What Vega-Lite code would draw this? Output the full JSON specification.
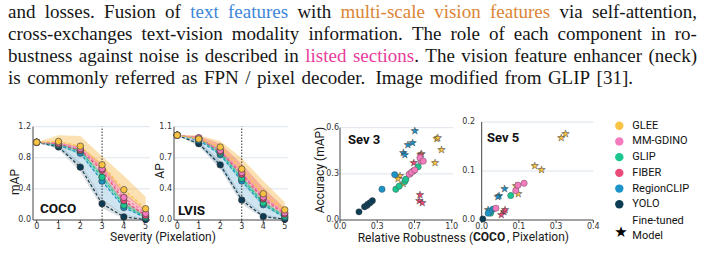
{
  "$schema": "https://vega.github.io/schema/vega-lite/v6.json",
  "width": 703,
  "height": 267,
  "autosize": "none",
  "padding": 0,
  "background": "white",
  "config": {
    "view": {"stroke": null},
    "axis": {"disable": true},
    "text": {"font": "Roboto"}
  },
  "datasets": {
    "words": [
      {"line": 1, "pos": 8, "word": "and", "tone": "body"},
      {"line": 1, "pos": 44.7, "word": "losses.", "tone": "body"},
      {"line": 1, "pos": 104.1, "word": "Fusion", "tone": "body"},
      {"line": 1, "pos": 165.1, "word": "of", "tone": "body"},
      {"line": 1, "pos": 190.2, "word": "text", "tone": "text"},
      {"line": 1, "pos": 228.0, "word": "features", "tone": "text"},
      {"line": 1, "pos": 297.4, "word": "with", "tone": "body"},
      {"line": 1, "pos": 340.5, "word": "multi-scale", "tone": "vision"},
      {"line": 1, "pos": 434.2, "word": "vision", "tone": "vision"},
      {"line": 1, "pos": 490.0, "word": "features", "tone": "vision"},
      {"line": 1, "pos": 559.4, "word": "via", "tone": "body"},
      {"line": 1, "pos": 591.9, "word": "self-attention,", "tone": "body"},
      {"line": 2, "pos": 8, "word": "cross-exchanges", "tone": "body"},
      {"line": 2, "pos": 141.5, "word": "text-vision", "tone": "body"},
      {"line": 2, "pos": 231.8, "word": "modality", "tone": "body"},
      {"line": 2, "pos": 308.4, "word": "information.", "tone": "body"},
      {"line": 2, "pos": 411.9, "word": "The", "tone": "body"},
      {"line": 2, "pos": 450.4, "word": "role", "tone": "body"},
      {"line": 2, "pos": 488.9, "word": "of", "tone": "body"},
      {"line": 2, "pos": 513.7, "word": "each", "tone": "body"},
      {"line": 2, "pos": 557.5, "word": "component", "tone": "body"},
      {"line": 2, "pos": 650.9, "word": "in", "tone": "body"},
      {"line": 2, "pos": 674.7, "word": "ro-", "tone": "body"},
      {"line": 3, "pos": 8, "word": "bustness", "tone": "body"},
      {"line": 3, "pos": 78.85, "word": "against", "tone": "body"},
      {"line": 3, "pos": 139.1, "word": "noise", "tone": "body"},
      {"line": 3, "pos": 185.65, "word": "is", "tone": "body"},
      {"line": 3, "pos": 204.8, "word": "described", "tone": "body"},
      {"line": 3, "pos": 284.05, "word": "in", "tone": "body"},
      {"line": 3, "pos": 305.3, "word": "listed", "tone": "section"},
      {"line": 3, "pos": 352.95, "word": "sections", "tone": "section"},
      {"line": 3, "pos": 414.15, "word": ".", "tone": "body"},
      {"line": 3, "pos": 425.35, "word": "The", "tone": "body"},
      {"line": 3, "pos": 461.3, "word": "vision", "tone": "body"},
      {"line": 3, "pos": 514.25, "word": "feature", "tone": "body"},
      {"line": 3, "pos": 573.4, "word": "enhancer", "tone": "body"},
      {"line": 3, "pos": 648.45, "word": "(neck)", "tone": "body"},
      {"line": 4, "pos": 8, "word": "is", "tone": "body"},
      {"line": 4, "pos": 27.2, "word": "commonly", "tone": "body"},
      {"line": 4, "pos": 115, "word": "referred", "tone": "body"},
      {"line": 4, "pos": 181.6, "word": "as", "tone": "body"},
      {"line": 4, "pos": 203.9, "word": "FPN", "tone": "body"},
      {"line": 4, "pos": 245.2, "word": "/", "tone": "body"},
      {"line": 4, "pos": 257, "word": "pixel", "tone": "body"},
      {"line": 4, "pos": 301.5, "word": "decoder.", "tone": "body"},
      {"line": 4, "pos": 375.4, "word": "Image", "tone": "body"},
      {"line": 4, "pos": 429.4, "word": "modified", "tone": "body"},
      {"line": 4, "pos": 504.5, "word": "from", "tone": "body"},
      {"line": 4, "pos": 547.9, "word": "GLIP", "tone": "body"},
      {"line": 4, "pos": 596.6, "word": "[31].", "tone": "body"}
    ],
    "sevTicks": [{"t": 0}, {"t": 1}, {"t": 2}, {"t": 3}, {"t": 4}, {"t": 5}],
    "sev3Ticks": [{"t": 0}, {"t": 0.33333}, {"t": 0.66667}, {"t": 1}],
    "sev5Ticks": [{"t": 0}, {"t": 0.13333}, {"t": 0.26667}, {"t": 0.4}],
    "cocoGrid": [{"g": 0}, {"g": 0.4}, {"g": 0.8}, {"g": 1.2}],
    "lvisGrid": [{"g": 0}, {"g": 0.36667}, {"g": 0.73333}, {"g": 1.1}],
    "sev3Grid": [{"g": 0}, {"g": 0.3}, {"g": 0.6}],
    "sev5Grid": [{"g": 0}, {"g": 0.1}, {"g": 0.2}],
    "bands": [
      {"set": "COCO", "band": "GLEE", "sev": 0, "lo": 1.0, "hi": 1.0},
      {"set": "COCO", "band": "GLEE", "sev": 1, "lo": 0.99, "hi": 1.09},
      {"set": "COCO", "band": "GLEE", "sev": 2, "lo": 0.93, "hi": 1.08},
      {"set": "COCO", "band": "GLEE", "sev": 3, "lo": 0.64, "hi": 0.82},
      {"set": "COCO", "band": "GLEE", "sev": 4, "lo": 0.33, "hi": 0.57},
      {"set": "COCO", "band": "GLEE", "sev": 5, "lo": 0.10, "hi": 0.30},
      {"set": "COCO", "band": "RegionCLIP", "sev": 0, "lo": 1.0, "hi": 1.0},
      {"set": "COCO", "band": "RegionCLIP", "sev": 1, "lo": 0.93, "hi": 0.98},
      {"set": "COCO", "band": "RegionCLIP", "sev": 2, "lo": 0.70, "hi": 0.90},
      {"set": "COCO", "band": "RegionCLIP", "sev": 3, "lo": 0.25, "hi": 0.58},
      {"set": "COCO", "band": "RegionCLIP", "sev": 4, "lo": 0.06, "hi": 0.24},
      {"set": "COCO", "band": "RegionCLIP", "sev": 5, "lo": 0.0, "hi": 0.06},
      {"set": "COCO", "band": "YOLO", "sev": 0, "lo": 1.0, "hi": 1.0},
      {"set": "COCO", "band": "YOLO", "sev": 1, "lo": 0.91, "hi": 0.97},
      {"set": "COCO", "band": "YOLO", "sev": 2, "lo": 0.62, "hi": 0.74},
      {"set": "COCO", "band": "YOLO", "sev": 3, "lo": 0.15, "hi": 0.27},
      {"set": "COCO", "band": "YOLO", "sev": 4, "lo": 0.02, "hi": 0.07},
      {"set": "COCO", "band": "YOLO", "sev": 5, "lo": 0.0, "hi": 0.02},
      {"set": "COCO", "band": "FIBER", "sev": 0, "lo": 1.0, "hi": 1.0},
      {"set": "COCO", "band": "FIBER", "sev": 1, "lo": 0.96, "hi": 1.0},
      {"set": "COCO", "band": "FIBER", "sev": 2, "lo": 0.87, "hi": 0.95},
      {"set": "COCO", "band": "FIBER", "sev": 3, "lo": 0.58, "hi": 0.72},
      {"set": "COCO", "band": "FIBER", "sev": 4, "lo": 0.20, "hi": 0.36},
      {"set": "COCO", "band": "FIBER", "sev": 5, "lo": 0.03, "hi": 0.13},
      {"set": "COCO", "band": "GLIP", "sev": 0, "lo": 1.0, "hi": 1.0},
      {"set": "COCO", "band": "GLIP", "sev": 1, "lo": 0.95, "hi": 0.99},
      {"set": "COCO", "band": "GLIP", "sev": 2, "lo": 0.84, "hi": 0.92},
      {"set": "COCO", "band": "GLIP", "sev": 3, "lo": 0.50, "hi": 0.60},
      {"set": "COCO", "band": "GLIP", "sev": 4, "lo": 0.16, "hi": 0.24},
      {"set": "COCO", "band": "GLIP", "sev": 5, "lo": 0.02, "hi": 0.06},
      {"set": "LVIS", "band": "GLEE", "sev": 0, "lo": 1.0, "hi": 1.0},
      {"set": "LVIS", "band": "GLEE", "sev": 1, "lo": 0.95, "hi": 1.0},
      {"set": "LVIS", "band": "GLEE", "sev": 2, "lo": 0.82, "hi": 0.93},
      {"set": "LVIS", "band": "GLEE", "sev": 3, "lo": 0.54, "hi": 0.73},
      {"set": "LVIS", "band": "GLEE", "sev": 4, "lo": 0.26, "hi": 0.46},
      {"set": "LVIS", "band": "GLEE", "sev": 5, "lo": 0.08, "hi": 0.21},
      {"set": "LVIS", "band": "RegionCLIP", "sev": 0, "lo": 1.0, "hi": 1.0},
      {"set": "LVIS", "band": "RegionCLIP", "sev": 1, "lo": 0.89, "hi": 0.97},
      {"set": "LVIS", "band": "RegionCLIP", "sev": 2, "lo": 0.62, "hi": 0.82},
      {"set": "LVIS", "band": "RegionCLIP", "sev": 3, "lo": 0.25, "hi": 0.52},
      {"set": "LVIS", "band": "RegionCLIP", "sev": 4, "lo": 0.05, "hi": 0.22},
      {"set": "LVIS", "band": "RegionCLIP", "sev": 5, "lo": 0.0, "hi": 0.05},
      {"set": "LVIS", "band": "YOLO", "sev": 0, "lo": 1.0, "hi": 1.0},
      {"set": "LVIS", "band": "YOLO", "sev": 1, "lo": 0.87, "hi": 0.93},
      {"set": "LVIS", "band": "YOLO", "sev": 2, "lo": 0.60, "hi": 0.70},
      {"set": "LVIS", "band": "YOLO", "sev": 3, "lo": 0.19, "hi": 0.28},
      {"set": "LVIS", "band": "YOLO", "sev": 4, "lo": 0.02, "hi": 0.07},
      {"set": "LVIS", "band": "YOLO", "sev": 5, "lo": 0.0, "hi": 0.02},
      {"set": "LVIS", "band": "FIBER", "sev": 0, "lo": 1.0, "hi": 1.0},
      {"set": "LVIS", "band": "FIBER", "sev": 1, "lo": 0.95, "hi": 0.99},
      {"set": "LVIS", "band": "FIBER", "sev": 2, "lo": 0.78, "hi": 0.90},
      {"set": "LVIS", "band": "FIBER", "sev": 3, "lo": 0.50, "hi": 0.66},
      {"set": "LVIS", "band": "FIBER", "sev": 4, "lo": 0.20, "hi": 0.38},
      {"set": "LVIS", "band": "FIBER", "sev": 5, "lo": 0.04, "hi": 0.14},
      {"set": "LVIS", "band": "GLIP", "sev": 0, "lo": 1.0, "hi": 1.0},
      {"set": "LVIS", "band": "GLIP", "sev": 1, "lo": 0.95, "hi": 0.98},
      {"set": "LVIS", "band": "GLIP", "sev": 2, "lo": 0.76, "hi": 0.83},
      {"set": "LVIS", "band": "GLIP", "sev": 3, "lo": 0.44, "hi": 0.53},
      {"set": "LVIS", "band": "GLIP", "sev": 4, "lo": 0.16, "hi": 0.24},
      {"set": "LVIS", "band": "GLIP", "sev": 5, "lo": 0.02, "hi": 0.06}
    ],
    "curves": [
      {"set": "COCO", "model": "YOLO", "sev": 0, "v": 1.0},
      {"set": "COCO", "model": "YOLO", "sev": 1, "v": 0.94},
      {"set": "COCO", "model": "YOLO", "sev": 2, "v": 0.68},
      {"set": "COCO", "model": "YOLO", "sev": 3, "v": 0.21},
      {"set": "COCO", "model": "YOLO", "sev": 4, "v": 0.04},
      {"set": "COCO", "model": "YOLO", "sev": 5, "v": 0.005},
      {"set": "COCO", "model": "RegionCLIP", "sev": 0, "v": 1.0},
      {"set": "COCO", "model": "RegionCLIP", "sev": 1, "v": 0.96},
      {"set": "COCO", "model": "RegionCLIP", "sev": 2, "v": 0.86},
      {"set": "COCO", "model": "RegionCLIP", "sev": 3, "v": 0.50},
      {"set": "COCO", "model": "RegionCLIP", "sev": 4, "v": 0.16},
      {"set": "COCO", "model": "RegionCLIP", "sev": 5, "v": 0.03},
      {"set": "COCO", "model": "GLIP", "sev": 0, "v": 1.0},
      {"set": "COCO", "model": "GLIP", "sev": 1, "v": 0.97},
      {"set": "COCO", "model": "GLIP", "sev": 2, "v": 0.89},
      {"set": "COCO", "model": "GLIP", "sev": 3, "v": 0.55},
      {"set": "COCO", "model": "GLIP", "sev": 4, "v": 0.19},
      {"set": "COCO", "model": "GLIP", "sev": 5, "v": 0.04},
      {"set": "COCO", "model": "FIBER", "sev": 0, "v": 1.0},
      {"set": "COCO", "model": "FIBER", "sev": 1, "v": 0.98},
      {"set": "COCO", "model": "FIBER", "sev": 2, "v": 0.90},
      {"set": "COCO", "model": "FIBER", "sev": 3, "v": 0.64},
      {"set": "COCO", "model": "FIBER", "sev": 4, "v": 0.25},
      {"set": "COCO", "model": "FIBER", "sev": 5, "v": 0.06},
      {"set": "COCO", "model": "MM-GDINO", "sev": 0, "v": 1.0},
      {"set": "COCO", "model": "MM-GDINO", "sev": 1, "v": 0.99},
      {"set": "COCO", "model": "MM-GDINO", "sev": 2, "v": 0.92},
      {"set": "COCO", "model": "MM-GDINO", "sev": 3, "v": 0.66},
      {"set": "COCO", "model": "MM-GDINO", "sev": 4, "v": 0.29},
      {"set": "COCO", "model": "MM-GDINO", "sev": 5, "v": 0.085},
      {"set": "COCO", "model": "GLEE", "sev": 0, "v": 1.0},
      {"set": "COCO", "model": "GLEE", "sev": 1, "v": 1.01},
      {"set": "COCO", "model": "GLEE", "sev": 2, "v": 0.95},
      {"set": "COCO", "model": "GLEE", "sev": 3, "v": 0.71},
      {"set": "COCO", "model": "GLEE", "sev": 4, "v": 0.39},
      {"set": "COCO", "model": "GLEE", "sev": 5, "v": 0.145},
      {"set": "LVIS", "model": "YOLO", "sev": 0, "v": 1.0},
      {"set": "LVIS", "model": "YOLO", "sev": 1, "v": 0.90},
      {"set": "LVIS", "model": "YOLO", "sev": 2, "v": 0.65},
      {"set": "LVIS", "model": "YOLO", "sev": 3, "v": 0.235},
      {"set": "LVIS", "model": "YOLO", "sev": 4, "v": 0.04},
      {"set": "LVIS", "model": "YOLO", "sev": 5, "v": 0.01},
      {"set": "LVIS", "model": "RegionCLIP", "sev": 0, "v": 1.0},
      {"set": "LVIS", "model": "RegionCLIP", "sev": 1, "v": 0.94},
      {"set": "LVIS", "model": "RegionCLIP", "sev": 2, "v": 0.77},
      {"set": "LVIS", "model": "RegionCLIP", "sev": 3, "v": 0.46},
      {"set": "LVIS", "model": "RegionCLIP", "sev": 4, "v": 0.18},
      {"set": "LVIS", "model": "RegionCLIP", "sev": 5, "v": 0.03},
      {"set": "LVIS", "model": "GLIP", "sev": 0, "v": 1.0},
      {"set": "LVIS", "model": "GLIP", "sev": 1, "v": 0.96},
      {"set": "LVIS", "model": "GLIP", "sev": 2, "v": 0.79},
      {"set": "LVIS", "model": "GLIP", "sev": 3, "v": 0.49},
      {"set": "LVIS", "model": "GLIP", "sev": 4, "v": 0.20},
      {"set": "LVIS", "model": "GLIP", "sev": 5, "v": 0.045},
      {"set": "LVIS", "model": "FIBER", "sev": 0, "v": 1.0},
      {"set": "LVIS", "model": "FIBER", "sev": 1, "v": 0.965},
      {"set": "LVIS", "model": "FIBER", "sev": 2, "v": 0.81},
      {"set": "LVIS", "model": "FIBER", "sev": 3, "v": 0.54},
      {"set": "LVIS", "model": "FIBER", "sev": 4, "v": 0.25},
      {"set": "LVIS", "model": "FIBER", "sev": 5, "v": 0.07},
      {"set": "LVIS", "model": "MM-GDINO", "sev": 0, "v": 1.0},
      {"set": "LVIS", "model": "MM-GDINO", "sev": 1, "v": 0.97},
      {"set": "LVIS", "model": "MM-GDINO", "sev": 2, "v": 0.82},
      {"set": "LVIS", "model": "MM-GDINO", "sev": 3, "v": 0.56},
      {"set": "LVIS", "model": "MM-GDINO", "sev": 4, "v": 0.27},
      {"set": "LVIS", "model": "MM-GDINO", "sev": 5, "v": 0.085},
      {"set": "LVIS", "model": "GLEE", "sev": 0, "v": 1.0},
      {"set": "LVIS", "model": "GLEE", "sev": 1, "v": 0.955},
      {"set": "LVIS", "model": "GLEE", "sev": 2, "v": 0.86},
      {"set": "LVIS", "model": "GLEE", "sev": 3, "v": 0.60},
      {"set": "LVIS", "model": "GLEE", "sev": 4, "v": 0.31},
      {"set": "LVIS", "model": "GLEE", "sev": 5, "v": 0.12}
    ],
    "scatter": [
      {"sev": 3, "model": "GLEE", "kind": "tuned", "rr": 0.537, "acc": 0.288},
      {"sev": 3, "model": "GLEE", "kind": "tuned", "rr": 0.52, "acc": 0.267},
      {"sev": 3, "model": "GLEE", "kind": "tuned", "rr": 0.567, "acc": 0.234},
      {"sev": 3, "model": "GLEE", "kind": "tuned", "rr": 0.73, "acc": 0.428},
      {"sev": 3, "model": "GLEE", "kind": "tuned", "rr": 0.866, "acc": 0.527},
      {"sev": 3, "model": "GLEE", "kind": "tuned", "rr": 0.875, "acc": 0.535},
      {"sev": 3, "model": "GLEE", "kind": "tuned", "rr": 0.91, "acc": 0.454},
      {"sev": 3, "model": "GLEE", "kind": "tuned", "rr": 0.85, "acc": 0.368},
      {"sev": 3, "model": "RegionCLIP", "kind": "tuned", "rr": 0.567, "acc": 0.434},
      {"sev": 3, "model": "RegionCLIP", "kind": "tuned", "rr": 0.58, "acc": 0.42},
      {"sev": 3, "model": "RegionCLIP", "kind": "tuned", "rr": 0.606, "acc": 0.486},
      {"sev": 3, "model": "RegionCLIP", "kind": "tuned", "rr": 0.65, "acc": 0.50},
      {"sev": 3, "model": "RegionCLIP", "kind": "tuned", "rr": 0.67, "acc": 0.576},
      {"sev": 3, "model": "FIBER", "kind": "tuned", "rr": 0.66, "acc": 0.372},
      {"sev": 3, "model": "FIBER", "kind": "tuned", "rr": 0.716, "acc": 0.16},
      {"sev": 3, "model": "FIBER", "kind": "tuned", "rr": 0.71, "acc": 0.125},
      {"sev": 3, "model": "FIBER", "kind": "tuned", "rr": 0.737, "acc": 0.11},
      {"sev": 3, "model": "FIBER", "kind": "tuned", "rr": 0.72, "acc": 0.42},
      {"sev": 3, "model": "YOLO", "kind": "base", "rr": 0.17, "acc": 0.053},
      {"sev": 3, "model": "YOLO", "kind": "base", "rr": 0.22, "acc": 0.086},
      {"sev": 3, "model": "YOLO", "kind": "base", "rr": 0.24, "acc": 0.094},
      {"sev": 3, "model": "YOLO", "kind": "base", "rr": 0.25, "acc": 0.103},
      {"sev": 3, "model": "YOLO", "kind": "base", "rr": 0.27, "acc": 0.112},
      {"sev": 3, "model": "YOLO", "kind": "base", "rr": 0.29, "acc": 0.125},
      {"sev": 3, "model": "RegionCLIP", "kind": "base", "rr": 0.376, "acc": 0.20},
      {"sev": 3, "model": "RegionCLIP", "kind": "base", "rr": 0.49, "acc": 0.295},
      {"sev": 3, "model": "GLIP", "kind": "base", "rr": 0.50, "acc": 0.20},
      {"sev": 3, "model": "GLIP", "kind": "base", "rr": 0.53, "acc": 0.22},
      {"sev": 3, "model": "GLIP", "kind": "base", "rr": 0.58, "acc": 0.25},
      {"sev": 3, "model": "GLIP", "kind": "base", "rr": 0.59, "acc": 0.265},
      {"sev": 3, "model": "GLIP", "kind": "base", "rr": 0.70, "acc": 0.346},
      {"sev": 3, "model": "FIBER", "kind": "base", "rr": 0.627, "acc": 0.30},
      {"sev": 3, "model": "FIBER", "kind": "base", "rr": 0.656, "acc": 0.318},
      {"sev": 3, "model": "MM-GDINO", "kind": "base", "rr": 0.62, "acc": 0.297},
      {"sev": 3, "model": "MM-GDINO", "kind": "base", "rr": 0.64, "acc": 0.31},
      {"sev": 3, "model": "MM-GDINO", "kind": "base", "rr": 0.67, "acc": 0.325},
      {"sev": 3, "model": "MM-GDINO", "kind": "base", "rr": 0.725, "acc": 0.383},
      {"sev": 3, "model": "MM-GDINO", "kind": "base", "rr": 0.716, "acc": 0.405},
      {"sev": 3, "model": "MM-GDINO", "kind": "base", "rr": 0.746, "acc": 0.383},
      {"sev": 5, "model": "GLEE", "kind": "tuned", "rr": 0.285, "acc": 0.168},
      {"sev": 5, "model": "GLEE", "kind": "tuned", "rr": 0.30, "acc": 0.175},
      {"sev": 5, "model": "GLEE", "kind": "tuned", "rr": 0.19, "acc": 0.11},
      {"sev": 5, "model": "GLEE", "kind": "tuned", "rr": 0.214, "acc": 0.103},
      {"sev": 5, "model": "GLEE", "kind": "tuned", "rr": 0.123, "acc": 0.07},
      {"sev": 5, "model": "GLEE", "kind": "tuned", "rr": 0.131, "acc": 0.054},
      {"sev": 5, "model": "RegionCLIP", "kind": "tuned", "rr": 0.082, "acc": 0.064},
      {"sev": 5, "model": "RegionCLIP", "kind": "tuned", "rr": 0.062, "acc": 0.05},
      {"sev": 5, "model": "RegionCLIP", "kind": "tuned", "rr": 0.058, "acc": 0.047},
      {"sev": 5, "model": "RegionCLIP", "kind": "tuned", "rr": 0.023, "acc": 0.02},
      {"sev": 5, "model": "FIBER", "kind": "tuned", "rr": 0.08, "acc": 0.016},
      {"sev": 5, "model": "FIBER", "kind": "tuned", "rr": 0.07, "acc": 0.01},
      {"sev": 5, "model": "FIBER", "kind": "tuned", "rr": 0.084, "acc": 0.02},
      {"sev": 5, "model": "YOLO", "kind": "base", "rr": 0.004, "acc": 0.002},
      {"sev": 5, "model": "GLIP", "kind": "base", "rr": 0.104, "acc": 0.05},
      {"sev": 5, "model": "GLIP", "kind": "base", "rr": 0.032, "acc": 0.014},
      {"sev": 5, "model": "GLIP", "kind": "base", "rr": 0.028, "acc": 0.018},
      {"sev": 5, "model": "RegionCLIP", "kind": "base", "rr": 0.04, "acc": 0.022},
      {"sev": 5, "model": "RegionCLIP", "kind": "base", "rr": 0.029, "acc": 0.017},
      {"sev": 5, "model": "RegionCLIP", "kind": "base", "rr": 0.023, "acc": 0.014},
      {"sev": 5, "model": "MM-GDINO", "kind": "base", "rr": 0.051, "acc": 0.024},
      {"sev": 5, "model": "MM-GDINO", "kind": "base", "rr": 0.122, "acc": 0.06},
      {"sev": 5, "model": "MM-GDINO", "kind": "base", "rr": 0.13, "acc": 0.071},
      {"sev": 5, "model": "MM-GDINO", "kind": "base", "rr": 0.152, "acc": 0.075}
    ],
    "legend": [
      {"model": "GLEE", "order": 0},
      {"model": "MM-GDINO", "order": 1},
      {"model": "GLIP", "order": 2},
      {"model": "FIBER", "order": 3},
      {"model": "RegionCLIP", "order": 4},
      {"model": "YOLO", "order": 5}
    ]
  },
  "resolve": {"scale": {"x": "independent", "y": "independent"}},
  "layer": [
    {
      "layer": [
        {
          "data": {"name": "words"},
          "transform": [{"filter": "datum.tone === 'body'"}],
          "mark": {"type": "text", "align": "left", "baseline": "alphabetic", "font": "Liberation Serif", "fontSize": 19, "color": "#161616"},
          "encoding": {
            "x": {"field": "pos", "type": "quantitative", "scale": {"domain": [0, 703], "range": [0, 703], "nice": false, "zero": false}},
            "y": {"field": "line", "type": "quantitative", "scale": {"domain": [1, 4], "range": [17.5, 83.5], "nice": false, "zero": false}},
            "text": {"field": "word"}
          }
        },
        {
          "data": {"name": "words"},
          "transform": [{"filter": "datum.tone === 'text'"}],
          "mark": {"type": "text", "align": "left", "baseline": "alphabetic", "font": "Liberation Serif", "fontSize": 19, "color": "#3d86d8"},
          "encoding": {
            "x": {"field": "pos", "type": "quantitative", "scale": {"domain": [0, 703], "range": [0, 703], "nice": false, "zero": false}},
            "y": {"field": "line", "type": "quantitative", "scale": {"domain": [1, 4], "range": [17.5, 83.5], "nice": false, "zero": false}},
            "text": {"field": "word"}
          }
        },
        {
          "data": {"name": "words"},
          "transform": [{"filter": "datum.tone === 'vision'"}],
          "mark": {"type": "text", "align": "left", "baseline": "alphabetic", "font": "Liberation Serif", "fontSize": 19, "color": "#dc8536"},
          "encoding": {
            "x": {"field": "pos", "type": "quantitative", "scale": {"domain": [0, 703], "range": [0, 703], "nice": false, "zero": false}},
            "y": {"field": "line", "type": "quantitative", "scale": {"domain": [1, 4], "range": [17.5, 83.5], "nice": false, "zero": false}},
            "text": {"field": "word"}
          }
        },
        {
          "data": {"name": "words"},
          "transform": [{"filter": "datum.tone === 'section'"}],
          "mark": {"type": "text", "align": "left", "baseline": "alphabetic", "font": "Liberation Serif", "fontSize": 19, "color": "#e83c9c"},
          "encoding": {
            "x": {"field": "pos", "type": "quantitative", "scale": {"domain": [0, 703], "range": [0, 703], "nice": false, "zero": false}},
            "y": {"field": "line", "type": "quantitative", "scale": {"domain": [1, 4], "range": [17.5, 83.5], "nice": false, "zero": false}},
            "text": {"field": "word"}
          }
        }
      ]
    },
    {
      "layer": [
        {
          "data": {"name": "cocoGrid"},
          "transform": [{"filter": "datum.g > 0"}],
          "mark": {"type": "rule", "color": "#dde4ea", "strokeWidth": 1},
          "encoding": {
            "x": {"datum": -0.17, "type": "quantitative", "scale": {"domain": [-0.17, 5.2], "range": [33, 150], "nice": false, "zero": false}},
            "x2": {"datum": 5.2},
            "y": {"field": "g", "type": "quantitative", "scale": {"domain": [0, 1.2], "range": [220, 126.7], "nice": false, "zero": false}}
          }
        },
        {
          "data": {"name": "bands"},
          "transform": [{"filter": "datum.set === 'COCO' && datum.band === 'GLEE'"}],
          "mark": {"type": "area", "color": "#F6B43C", "opacity": 0.4},
          "encoding": {
            "x": {"field": "sev", "type": "quantitative", "scale": {"domain": [-0.17, 5.2], "range": [33, 150], "nice": false, "zero": false}},
            "y": {"field": "lo", "type": "quantitative", "scale": {"domain": [0, 1.2], "range": [220, 126.7], "nice": false, "zero": false}},
            "y2": {"field": "hi"}
          }
        },
        {
          "data": {"name": "bands"},
          "transform": [{"filter": "datum.set === 'COCO' && datum.band === 'RegionCLIP'"}],
          "mark": {"type": "area", "color": "#4FA3CC", "opacity": 0.28},
          "encoding": {
            "x": {"field": "sev", "type": "quantitative", "scale": {"domain": [-0.17, 5.2], "range": [33, 150], "nice": false, "zero": false}},
            "y": {"field": "lo", "type": "quantitative", "scale": {"domain": [0, 1.2], "range": [220, 126.7], "nice": false, "zero": false}},
            "y2": {"field": "hi"}
          }
        },
        {
          "data": {"name": "bands"},
          "transform": [{"filter": "datum.set === 'COCO' && datum.band === 'YOLO'"}],
          "mark": {"type": "area", "color": "#7D8C96", "opacity": 0.28},
          "encoding": {
            "x": {"field": "sev", "type": "quantitative", "scale": {"domain": [-0.17, 5.2], "range": [33, 150], "nice": false, "zero": false}},
            "y": {"field": "lo", "type": "quantitative", "scale": {"domain": [0, 1.2], "range": [220, 126.7], "nice": false, "zero": false}},
            "y2": {"field": "hi"}
          }
        },
        {
          "data": {"name": "bands"},
          "transform": [{"filter": "datum.set === 'COCO' && datum.band === 'FIBER'"}],
          "mark": {"type": "area", "color": "#EF5C6A", "opacity": 0.35},
          "encoding": {
            "x": {"field": "sev", "type": "quantitative", "scale": {"domain": [-0.17, 5.2], "range": [33, 150], "nice": false, "zero": false}},
            "y": {"field": "lo", "type": "quantitative", "scale": {"domain": [0, 1.2], "range": [220, 126.7], "nice": false, "zero": false}},
            "y2": {"field": "hi"}
          }
        },
        {
          "data": {"name": "bands"},
          "transform": [{"filter": "datum.set === 'COCO' && datum.band === 'GLIP'"}],
          "mark": {"type": "area", "color": "#2BB77E", "opacity": 0.3},
          "encoding": {
            "x": {"field": "sev", "type": "quantitative", "scale": {"domain": [-0.17, 5.2], "range": [33, 150], "nice": false, "zero": false}},
            "y": {"field": "lo", "type": "quantitative", "scale": {"domain": [0, 1.2], "range": [220, 126.7], "nice": false, "zero": false}},
            "y2": {"field": "hi"}
          }
        },
        {
          "data": {"values": [{}]},
          "mark": {"type": "rule", "color": "#444", "strokeWidth": 1},
          "encoding": {
            "x": {"datum": -0.17, "type": "quantitative", "scale": {"domain": [-0.17, 5.2], "range": [33, 150], "nice": false, "zero": false}},
            "y": {"datum": 0, "type": "quantitative", "scale": {"domain": [0, 1.2], "range": [220, 126.7], "nice": false, "zero": false}},
            "y2": {"datum": 1.2}
          }
        },
        {
          "data": {"values": [{}]},
          "mark": {"type": "rule", "color": "#444", "strokeWidth": 1},
          "encoding": {
            "x": {"datum": -0.17, "type": "quantitative", "scale": {"domain": [-0.17, 5.2], "range": [33, 150], "nice": false, "zero": false}},
            "x2": {"datum": 5.2},
            "y": {"datum": 0, "type": "quantitative", "scale": {"domain": [0, 1.2], "range": [220, 126.7], "nice": false, "zero": false}}
          }
        },
        {
          "data": {"name": "sevTicks"},
          "mark": {"type": "rule", "color": "#444", "strokeWidth": 1},
          "encoding": {
            "x": {"field": "t", "type": "quantitative", "scale": {"domain": [-0.17, 5.2], "range": [33, 150], "nice": false, "zero": false}},
            "y": {"datum": 0, "type": "quantitative", "scale": {"domain": [0, 1.2], "range": [220, 126.7], "nice": false, "zero": false}},
            "y2": {"datum": -0.0386}
          }
        },
        {
          "data": {"name": "sevTicks"},
          "mark": {"type": "text", "font": "DejaVu Sans", "fontSize": 8, "color": "#333", "align": "center", "baseline": "middle"},
          "encoding": {
            "x": {"field": "t", "type": "quantitative", "scale": {"domain": [-0.17, 5.2], "range": [33, 150], "nice": false, "zero": false}},
            "y": {"datum": -0.09, "type": "quantitative", "scale": {"domain": [0, 1.2], "range": [220, 126.7], "nice": false, "zero": false}},
            "text": {"field": "t", "type": "quantitative", "format": "d"}
          }
        },
        {
          "data": {"name": "cocoGrid"},
          "mark": {"type": "text", "font": "DejaVu Sans", "fontSize": 8, "color": "#333", "align": "right", "baseline": "middle"},
          "encoding": {
            "x": {"datum": -0.262, "type": "quantitative", "scale": {"domain": [-0.17, 5.2], "range": [33, 150], "nice": false, "zero": false}},
            "y": {"field": "g", "type": "quantitative", "scale": {"domain": [0, 1.2], "range": [220, 126.7], "nice": false, "zero": false}},
            "text": {"field": "g", "type": "quantitative", "format": ".1f"}
          }
        },
        {
          "data": {"values": [{}]},
          "mark": {"type": "rule", "color": "#333", "strokeWidth": 1, "strokeDash": [1.5, 1.5]},
          "encoding": {
            "x": {"datum": 3, "type": "quantitative", "scale": {"domain": [-0.17, 5.2], "range": [33, 150], "nice": false, "zero": false}},
            "y": {"datum": 0, "type": "quantitative", "scale": {"domain": [0, 1.2], "range": [220, 126.7], "nice": false, "zero": false}},
            "y2": {"datum": 1.2}
          }
        },
        {
          "data": {"name": "curves"},
          "transform": [
            {"filter": "datum.set === 'COCO'"},
            {"window": [{"op": "lead", "field": "sev", "as": "sevNext"}, {"op": "lead", "field": "v", "as": "vNext"}], "groupby": ["model"], "sort": [{"field": "sev", "order": "ascending"}]},
            {"filter": "datum.sevNext != null"}
          ],
          "mark": {"type": "rule", "strokeDash": [3, 2], "strokeWidth": 1.2},
          "encoding": {
            "x": {"field": "sev", "type": "quantitative", "scale": {"domain": [-0.17, 5.2], "range": [33, 150], "nice": false, "zero": false}},
            "x2": {"field": "sevNext"},
            "y": {"field": "v", "type": "quantitative", "scale": {"domain": [0, 1.2], "range": [220, 126.7], "nice": false, "zero": false}},
            "y2": {"field": "vNext"},
            "color": {"field": "model", "type": "nominal", "legend": null,
              "scale": {"domain": ["GLEE", "MM-GDINO", "GLIP", "FIBER", "RegionCLIP", "YOLO"], "range": ["#F9C343", "#F47BBE", "#1CC690", "#EC4A78", "#1C93C8", "#0D3D55"]}}
          }
        },
        {
          "data": {"name": "curves"},
          "transform": [{"filter": "datum.set === 'COCO'"}],
          "mark": {"type": "point", "filled": true, "size": 42, "stroke": "#333", "strokeWidth": 0.6, "opacity": 1},
          "encoding": {
            "x": {"field": "sev", "type": "quantitative", "scale": {"domain": [-0.17, 5.2], "range": [33, 150], "nice": false, "zero": false}},
            "y": {"field": "v", "type": "quantitative", "scale": {"domain": [0, 1.2], "range": [220, 126.7], "nice": false, "zero": false}},
            "color": {"field": "model", "type": "nominal", "legend": null,
              "scale": {"domain": ["GLEE", "MM-GDINO", "GLIP", "FIBER", "RegionCLIP", "YOLO"], "range": ["#F9C343", "#F47BBE", "#1CC690", "#EC4A78", "#1C93C8", "#0D3D55"]}}
          }
        },
        {
          "data": {"values": [{}]},
          "mark": {"type": "text", "text": "COCO", "fontWeight": "bold", "fontSize": 13.5, "align": "left", "baseline": "middle", "color": "#111"},
          "encoding": {
            "x": {"datum": 0.15, "type": "quantitative", "scale": {"domain": [-0.17, 5.2], "range": [33, 150], "nice": false, "zero": false}},
            "y": {"datum": 0.14, "type": "quantitative", "scale": {"domain": [0, 1.2], "range": [220, 126.7], "nice": false, "zero": false}}
          }
        },
        {
          "data": {"values": [{}]},
          "mark": {"type": "text", "text": "mAP", "angle": 270, "fontSize": 12, "align": "center", "baseline": "middle", "color": "#1a1a1a"},
          "encoding": {
            "x": {"datum": -0.996, "type": "quantitative", "scale": {"domain": [-0.17, 5.2], "range": [33, 150], "nice": false, "zero": false}},
            "y": {"datum": 0.489, "type": "quantitative", "scale": {"domain": [0, 1.2], "range": [220, 126.7], "nice": false, "zero": false}}
          }
        },
        {
          "data": {"values": [{}]},
          "mark": {"type": "text", "text": "Severity (Pixelation)", "fontSize": 12, "align": "center", "baseline": "middle", "color": "#1a1a1a"},
          "encoding": {
            "x": {"datum": 5.796, "type": "quantitative", "scale": {"domain": [-0.17, 5.2], "range": [33, 150], "nice": false, "zero": false}},
            "y": {"datum": -0.225, "type": "quantitative", "scale": {"domain": [0, 1.2], "range": [220, 126.7], "nice": false, "zero": false}}
          }
        }
      ]
    },
    {
      "layer": [
        {
          "data": {"name": "lvisGrid"},
          "transform": [{"filter": "datum.g > 0"}],
          "mark": {"type": "rule", "color": "#dde4ea", "strokeWidth": 1},
          "encoding": {
            "x": {"datum": -0.15, "type": "quantitative", "scale": {"domain": [-0.15, 5.15], "range": [174, 288], "nice": false, "zero": false}},
            "x2": {"datum": 5.15},
            "y": {"field": "g", "type": "quantitative", "scale": {"domain": [0, 1.1], "range": [220, 126.7], "nice": false, "zero": false}}
          }
        },
        {
          "data": {"name": "bands"},
          "transform": [{"filter": "datum.set === 'LVIS' && datum.band === 'GLEE'"}],
          "mark": {"type": "area", "color": "#F6B43C", "opacity": 0.4},
          "encoding": {
            "x": {"field": "sev", "type": "quantitative", "scale": {"domain": [-0.15, 5.15], "range": [174, 288], "nice": false, "zero": false}},
            "y": {"field": "lo", "type": "quantitative", "scale": {"domain": [0, 1.1], "range": [220, 126.7], "nice": false, "zero": false}},
            "y2": {"field": "hi"}
          }
        },
        {
          "data": {"name": "bands"},
          "transform": [{"filter": "datum.set === 'LVIS' && datum.band === 'RegionCLIP'"}],
          "mark": {"type": "area", "color": "#4FA3CC", "opacity": 0.28},
          "encoding": {
            "x": {"field": "sev", "type": "quantitative", "scale": {"domain": [-0.15, 5.15], "range": [174, 288], "nice": false, "zero": false}},
            "y": {"field": "lo", "type": "quantitative", "scale": {"domain": [0, 1.1], "range": [220, 126.7], "nice": false, "zero": false}},
            "y2": {"field": "hi"}
          }
        },
        {
          "data": {"name": "bands"},
          "transform": [{"filter": "datum.set === 'LVIS' && datum.band === 'YOLO'"}],
          "mark": {"type": "area", "color": "#7D8C96", "opacity": 0.28},
          "encoding": {
            "x": {"field": "sev", "type": "quantitative", "scale": {"domain": [-0.15, 5.15], "range": [174, 288], "nice": false, "zero": false}},
            "y": {"field": "lo", "type": "quantitative", "scale": {"domain": [0, 1.1], "range": [220, 126.7], "nice": false, "zero": false}},
            "y2": {"field": "hi"}
          }
        },
        {
          "data": {"name": "bands"},
          "transform": [{"filter": "datum.set === 'LVIS' && datum.band === 'FIBER'"}],
          "mark": {"type": "area", "color": "#EF5C6A", "opacity": 0.35},
          "encoding": {
            "x": {"field": "sev", "type": "quantitative", "scale": {"domain": [-0.15, 5.15], "range": [174, 288], "nice": false, "zero": false}},
            "y": {"field": "lo", "type": "quantitative", "scale": {"domain": [0, 1.1], "range": [220, 126.7], "nice": false, "zero": false}},
            "y2": {"field": "hi"}
          }
        },
        {
          "data": {"name": "bands"},
          "transform": [{"filter": "datum.set === 'LVIS' && datum.band === 'GLIP'"}],
          "mark": {"type": "area", "color": "#2BB77E", "opacity": 0.3},
          "encoding": {
            "x": {"field": "sev", "type": "quantitative", "scale": {"domain": [-0.15, 5.15], "range": [174, 288], "nice": false, "zero": false}},
            "y": {"field": "lo", "type": "quantitative", "scale": {"domain": [0, 1.1], "range": [220, 126.7], "nice": false, "zero": false}},
            "y2": {"field": "hi"}
          }
        },
        {
          "data": {"values": [{}]},
          "mark": {"type": "rule", "color": "#444", "strokeWidth": 1},
          "encoding": {
            "x": {"datum": -0.15, "type": "quantitative", "scale": {"domain": [-0.15, 5.15], "range": [174, 288], "nice": false, "zero": false}},
            "y": {"datum": 0, "type": "quantitative", "scale": {"domain": [0, 1.1], "range": [220, 126.7], "nice": false, "zero": false}},
            "y2": {"datum": 1.1}
          }
        },
        {
          "data": {"values": [{}]},
          "mark": {"type": "rule", "color": "#444", "strokeWidth": 1},
          "encoding": {
            "x": {"datum": -0.15, "type": "quantitative", "scale": {"domain": [-0.15, 5.15], "range": [174, 288], "nice": false, "zero": false}},
            "x2": {"datum": 5.15},
            "y": {"datum": 0, "type": "quantitative", "scale": {"domain": [0, 1.1], "range": [220, 126.7], "nice": false, "zero": false}}
          }
        },
        {
          "data": {"name": "sevTicks"},
          "mark": {"type": "rule", "color": "#444", "strokeWidth": 1},
          "encoding": {
            "x": {"field": "t", "type": "quantitative", "scale": {"domain": [-0.15, 5.15], "range": [174, 288], "nice": false, "zero": false}},
            "y": {"datum": 0, "type": "quantitative", "scale": {"domain": [0, 1.1], "range": [220, 126.7], "nice": false, "zero": false}},
            "y2": {"datum": -0.0354}
          }
        },
        {
          "data": {"name": "sevTicks"},
          "mark": {"type": "text", "font": "DejaVu Sans", "fontSize": 8, "color": "#333", "align": "center", "baseline": "middle"},
          "encoding": {
            "x": {"field": "t", "type": "quantitative", "scale": {"domain": [-0.15, 5.15], "range": [174, 288], "nice": false, "zero": false}},
            "y": {"datum": -0.0825, "type": "quantitative", "scale": {"domain": [0, 1.1], "range": [220, 126.7], "nice": false, "zero": false}},
            "text": {"field": "t", "type": "quantitative", "format": "d"}
          }
        },
        {
          "data": {"name": "lvisGrid"},
          "mark": {"type": "text", "font": "DejaVu Sans", "fontSize": 8, "color": "#333", "align": "right", "baseline": "middle"},
          "encoding": {
            "x": {"datum": -0.243, "type": "quantitative", "scale": {"domain": [-0.15, 5.15], "range": [174, 288], "nice": false, "zero": false}},
            "y": {"field": "g", "type": "quantitative", "scale": {"domain": [0, 1.1], "range": [220, 126.7], "nice": false, "zero": false}},
            "text": {"field": "g", "type": "quantitative", "format": ".1f"}
          }
        },
        {
          "data": {"values": [{}]},
          "mark": {"type": "rule", "color": "#333", "strokeWidth": 1, "strokeDash": [1.5, 1.5]},
          "encoding": {
            "x": {"datum": 3, "type": "quantitative", "scale": {"domain": [-0.15, 5.15], "range": [174, 288], "nice": false, "zero": false}},
            "y": {"datum": 0, "type": "quantitative", "scale": {"domain": [0, 1.1], "range": [220, 126.7], "nice": false, "zero": false}},
            "y2": {"datum": 1.1}
          }
        },
        {
          "data": {"name": "curves"},
          "transform": [
            {"filter": "datum.set === 'LVIS'"},
            {"window": [{"op": "lead", "field": "sev", "as": "sevNext"}, {"op": "lead", "field": "v", "as": "vNext"}], "groupby": ["model"], "sort": [{"field": "sev", "order": "ascending"}]},
            {"filter": "datum.sevNext != null"}
          ],
          "mark": {"type": "rule", "strokeDash": [3, 2], "strokeWidth": 1.2},
          "encoding": {
            "x": {"field": "sev", "type": "quantitative", "scale": {"domain": [-0.15, 5.15], "range": [174, 288], "nice": false, "zero": false}},
            "x2": {"field": "sevNext"},
            "y": {"field": "v", "type": "quantitative", "scale": {"domain": [0, 1.1], "range": [220, 126.7], "nice": false, "zero": false}},
            "y2": {"field": "vNext"},
            "color": {"field": "model", "type": "nominal", "legend": null,
              "scale": {"domain": ["GLEE", "MM-GDINO", "GLIP", "FIBER", "RegionCLIP", "YOLO"], "range": ["#F9C343", "#F47BBE", "#1CC690", "#EC4A78", "#1C93C8", "#0D3D55"]}}
          }
        },
        {
          "data": {"name": "curves"},
          "transform": [{"filter": "datum.set === 'LVIS'"}],
          "mark": {"type": "point", "filled": true, "size": 42, "stroke": "#333", "strokeWidth": 0.6, "opacity": 1},
          "encoding": {
            "x": {"field": "sev", "type": "quantitative", "scale": {"domain": [-0.15, 5.15], "range": [174, 288], "nice": false, "zero": false}},
            "y": {"field": "v", "type": "quantitative", "scale": {"domain": [0, 1.1], "range": [220, 126.7], "nice": false, "zero": false}},
            "color": {"field": "model", "type": "nominal", "legend": null,
              "scale": {"domain": ["GLEE", "MM-GDINO", "GLIP", "FIBER", "RegionCLIP", "YOLO"], "range": ["#F9C343", "#F47BBE", "#1CC690", "#EC4A78", "#1C93C8", "#0D3D55"]}}
          }
        },
        {
          "data": {"values": [{}]},
          "mark": {"type": "text", "text": "LVIS", "fontWeight": "bold", "fontSize": 13.5, "align": "left", "baseline": "middle", "color": "#111"},
          "encoding": {
            "x": {"datum": 0.04, "type": "quantitative", "scale": {"domain": [-0.15, 5.15], "range": [174, 288], "nice": false, "zero": false}},
            "y": {"datum": 0.11, "type": "quantitative", "scale": {"domain": [0, 1.1], "range": [220, 126.7], "nice": false, "zero": false}}
          }
        },
        {
          "data": {"values": [{}]},
          "mark": {"type": "text", "text": "AP", "angle": 270, "fontSize": 12, "align": "center", "baseline": "middle", "color": "#1a1a1a"},
          "encoding": {
            "x": {"datum": -0.801, "type": "quantitative", "scale": {"domain": [-0.15, 5.15], "range": [174, 288], "nice": false, "zero": false}},
            "y": {"datum": 0.578, "type": "quantitative", "scale": {"domain": [0, 1.1], "range": [220, 126.7], "nice": false, "zero": false}}
          }
        }
      ]
    },
    {
      "layer": [
        {
          "data": {"name": "sev3Grid"},
          "transform": [{"filter": "datum.g > 0"}],
          "mark": {"type": "rule", "color": "#dde4ea", "strokeWidth": 1},
          "encoding": {
            "x": {"datum": 0, "type": "quantitative", "scale": {"domain": [0, 1.012], "range": [340, 453], "nice": false, "zero": false}},
            "x2": {"datum": 1.012},
            "y": {"field": "g", "type": "quantitative", "scale": {"domain": [0, 0.6], "range": [220, 127.7], "nice": false, "zero": false}}
          }
        },
        {
          "data": {"values": [{}]},
          "mark": {"type": "rule", "color": "#444", "strokeWidth": 1},
          "encoding": {
            "x": {"datum": 0, "type": "quantitative", "scale": {"domain": [0, 1.012], "range": [340, 453], "nice": false, "zero": false}},
            "y": {"datum": 0, "type": "quantitative", "scale": {"domain": [0, 0.6], "range": [220, 127.7], "nice": false, "zero": false}},
            "y2": {"datum": 0.6}
          }
        },
        {
          "data": {"values": [{}]},
          "mark": {"type": "rule", "color": "#444", "strokeWidth": 1},
          "encoding": {
            "x": {"datum": 0, "type": "quantitative", "scale": {"domain": [0, 1.012], "range": [340, 453], "nice": false, "zero": false}},
            "x2": {"datum": 1.012},
            "y": {"datum": 0, "type": "quantitative", "scale": {"domain": [0, 0.6], "range": [220, 127.7], "nice": false, "zero": false}}
          }
        },
        {
          "data": {"name": "sev3Ticks"},
          "mark": {"type": "rule", "color": "#444", "strokeWidth": 1},
          "encoding": {
            "x": {"field": "t", "type": "quantitative", "scale": {"domain": [0, 1.012], "range": [340, 453], "nice": false, "zero": false}},
            "y": {"datum": 0, "type": "quantitative", "scale": {"domain": [0, 0.6], "range": [220, 127.7], "nice": false, "zero": false}},
            "y2": {"datum": -0.0195}
          }
        },
        {
          "data": {"name": "sev3Ticks"},
          "mark": {"type": "text", "font": "DejaVu Sans", "fontSize": 8, "color": "#333", "align": "center", "baseline": "middle"},
          "encoding": {
            "x": {"field": "t", "type": "quantitative", "scale": {"domain": [0, 1.012], "range": [340, 453], "nice": false, "zero": false}},
            "y": {"datum": -0.0455, "type": "quantitative", "scale": {"domain": [0, 0.6], "range": [220, 127.7], "nice": false, "zero": false}},
            "text": {"field": "t", "type": "quantitative", "format": ".1f"}
          }
        },
        {
          "data": {"name": "sev3Grid"},
          "mark": {"type": "text", "font": "DejaVu Sans", "fontSize": 8, "color": "#333", "align": "right", "baseline": "middle"},
          "encoding": {
            "x": {"datum": -0.009, "type": "quantitative", "scale": {"domain": [0, 1.012], "range": [340, 453], "nice": false, "zero": false}},
            "y": {"field": "g", "type": "quantitative", "scale": {"domain": [0, 0.6], "range": [220, 127.7], "nice": false, "zero": false}},
            "text": {"field": "g", "type": "quantitative", "format": ".1f"}
          }
        },
        {
          "data": {"name": "scatter"},
          "transform": [{"filter": "datum.sev === 3 && datum.kind === 'tuned'"}],
          "mark": {"type": "text", "text": "★", "font": "DejaVu Sans", "fontSize": 9.5, "align": "center", "baseline": "middle", "stroke": "#333", "strokeWidth": 0.4},
          "encoding": {
            "x": {"field": "rr", "type": "quantitative", "scale": {"domain": [0, 1.012], "range": [340, 453], "nice": false, "zero": false}},
            "y": {"field": "acc", "type": "quantitative", "scale": {"domain": [0, 0.6], "range": [220, 127.7], "nice": false, "zero": false}},
            "color": {"field": "model", "type": "nominal", "legend": null,
              "scale": {"domain": ["GLEE", "MM-GDINO", "GLIP", "FIBER", "RegionCLIP", "YOLO"], "range": ["#F9C343", "#F47BBE", "#1CC690", "#EC4A78", "#1C93C8", "#0D3D55"]}}
          }
        },
        {
          "data": {"name": "scatter"},
          "transform": [{"filter": "datum.sev === 3 && datum.kind === 'base'"}],
          "mark": {"type": "point", "filled": true, "size": 40, "stroke": "#444", "strokeWidth": 0.4, "opacity": 1},
          "encoding": {
            "x": {"field": "rr", "type": "quantitative", "scale": {"domain": [0, 1.012], "range": [340, 453], "nice": false, "zero": false}},
            "y": {"field": "acc", "type": "quantitative", "scale": {"domain": [0, 0.6], "range": [220, 127.7], "nice": false, "zero": false}},
            "color": {"field": "model", "type": "nominal", "legend": null,
              "scale": {"domain": ["GLEE", "MM-GDINO", "GLIP", "FIBER", "RegionCLIP", "YOLO"], "range": ["#F9C343", "#F47BBE", "#1CC690", "#EC4A78", "#1C93C8", "#0D3D55"]}}
          }
        },
        {
          "data": {"values": [{}]},
          "mark": {"type": "text", "text": "Sev 3", "fontWeight": "bold", "fontSize": 13, "align": "left", "baseline": "middle", "color": "#111"},
          "encoding": {
            "x": {"datum": 0.072, "type": "quantitative", "scale": {"domain": [0, 1.012], "range": [340, 453], "nice": false, "zero": false}},
            "y": {"datum": 0.52, "type": "quantitative", "scale": {"domain": [0, 0.6], "range": [220, 127.7], "nice": false, "zero": false}}
          }
        },
        {
          "data": {"values": [{}]},
          "mark": {"type": "text", "text": "Accuracy (mAP)", "angle": 270, "fontSize": 12, "align": "center", "baseline": "middle", "color": "#1a1a1a"},
          "encoding": {
            "x": {"datum": -0.179, "type": "quantitative", "scale": {"domain": [0, 1.012], "range": [340, 453], "nice": false, "zero": false}},
            "y": {"datum": 0.325, "type": "quantitative", "scale": {"domain": [0, 0.6], "range": [220, 127.7], "nice": false, "zero": false}}
          }
        },
        {
          "data": {"values": [{}]},
          "mark": {"type": "text", "text": "Relative Robustness (", "fontSize": 12, "align": "right", "baseline": "middle", "color": "#1a1a1a"},
          "encoding": {
            "x": {"datum": 1.191, "type": "quantitative", "scale": {"domain": [0, 1.012], "range": [340, 453], "nice": false, "zero": false}},
            "y": {"datum": -0.1138, "type": "quantitative", "scale": {"domain": [0, 0.6], "range": [220, 127.7], "nice": false, "zero": false}}
          }
        }
      ]
    },
    {
      "layer": [
        {
          "data": {"name": "sev5Grid"},
          "transform": [{"filter": "datum.g > 0"}],
          "mark": {"type": "rule", "color": "#dde4ea", "strokeWidth": 1},
          "encoding": {
            "x": {"datum": 0, "type": "quantitative", "scale": {"domain": [0, 0.4], "range": [481.7, 593.3], "nice": false, "zero": false}},
            "x2": {"datum": 0.4},
            "y": {"field": "g", "type": "quantitative", "scale": {"domain": [0, 0.2], "range": [220, 122], "nice": false, "zero": false}}
          }
        },
        {
          "data": {"values": [{}]},
          "mark": {"type": "rule", "color": "#444", "strokeWidth": 1},
          "encoding": {
            "x": {"datum": 0, "type": "quantitative", "scale": {"domain": [0, 0.4], "range": [481.7, 593.3], "nice": false, "zero": false}},
            "y": {"datum": 0, "type": "quantitative", "scale": {"domain": [0, 0.2], "range": [220, 122], "nice": false, "zero": false}},
            "y2": {"datum": 0.2}
          }
        },
        {
          "data": {"values": [{}]},
          "mark": {"type": "rule", "color": "#444", "strokeWidth": 1},
          "encoding": {
            "x": {"datum": 0, "type": "quantitative", "scale": {"domain": [0, 0.4], "range": [481.7, 593.3], "nice": false, "zero": false}},
            "x2": {"datum": 0.4},
            "y": {"datum": 0, "type": "quantitative", "scale": {"domain": [0, 0.2], "range": [220, 122], "nice": false, "zero": false}}
          }
        },
        {
          "data": {"name": "sev5Ticks"},
          "mark": {"type": "rule", "color": "#444", "strokeWidth": 1},
          "encoding": {
            "x": {"field": "t", "type": "quantitative", "scale": {"domain": [0, 0.4], "range": [481.7, 593.3], "nice": false, "zero": false}},
            "y": {"datum": 0, "type": "quantitative", "scale": {"domain": [0, 0.2], "range": [220, 122], "nice": false, "zero": false}},
            "y2": {"datum": -0.0061}
          }
        },
        {
          "data": {"name": "sev5Ticks"},
          "mark": {"type": "text", "font": "DejaVu Sans", "fontSize": 8, "color": "#333", "align": "center", "baseline": "middle"},
          "encoding": {
            "x": {"field": "t", "type": "quantitative", "scale": {"domain": [0, 0.4], "range": [481.7, 593.3], "nice": false, "zero": false}},
            "y": {"datum": -0.0143, "type": "quantitative", "scale": {"domain": [0, 0.2], "range": [220, 122], "nice": false, "zero": false}},
            "text": {"field": "t", "type": "quantitative", "format": ".1f"}
          }
        },
        {
          "data": {"name": "sev5Grid"},
          "mark": {"type": "text", "font": "DejaVu Sans", "fontSize": 8, "color": "#333", "align": "right", "baseline": "middle"},
          "encoding": {
            "x": {"datum": -0.024, "type": "quantitative", "scale": {"domain": [0, 0.4], "range": [481.7, 593.3], "nice": false, "zero": false}},
            "y": {"field": "g", "type": "quantitative", "scale": {"domain": [0, 0.2], "range": [220, 122], "nice": false, "zero": false}},
            "text": {"field": "g", "type": "quantitative", "format": ".1f"}
          }
        },
        {
          "data": {"name": "scatter"},
          "transform": [{"filter": "datum.sev === 5 && datum.kind === 'tuned'"}],
          "mark": {"type": "text", "text": "★", "font": "DejaVu Sans", "fontSize": 9.5, "align": "center", "baseline": "middle", "stroke": "#333", "strokeWidth": 0.4},
          "encoding": {
            "x": {"field": "rr", "type": "quantitative", "scale": {"domain": [0, 0.4], "range": [481.7, 593.3], "nice": false, "zero": false}},
            "y": {"field": "acc", "type": "quantitative", "scale": {"domain": [0, 0.2], "range": [220, 122], "nice": false, "zero": false}},
            "color": {"field": "model", "type": "nominal", "legend": null,
              "scale": {"domain": ["GLEE", "MM-GDINO", "GLIP", "FIBER", "RegionCLIP", "YOLO"], "range": ["#F9C343", "#F47BBE", "#1CC690", "#EC4A78", "#1C93C8", "#0D3D55"]}}
          }
        },
        {
          "data": {"name": "scatter"},
          "transform": [{"filter": "datum.sev === 5 && datum.kind === 'base'"}],
          "mark": {"type": "point", "filled": true, "size": 40, "stroke": "#444", "strokeWidth": 0.4, "opacity": 1},
          "encoding": {
            "x": {"field": "rr", "type": "quantitative", "scale": {"domain": [0, 0.4], "range": [481.7, 593.3], "nice": false, "zero": false}},
            "y": {"field": "acc", "type": "quantitative", "scale": {"domain": [0, 0.2], "range": [220, 122], "nice": false, "zero": false}},
            "color": {"field": "model", "type": "nominal", "legend": null,
              "scale": {"domain": ["GLEE", "MM-GDINO", "GLIP", "FIBER", "RegionCLIP", "YOLO"], "range": ["#F9C343", "#F47BBE", "#1CC690", "#EC4A78", "#1C93C8", "#0D3D55"]}}
          }
        },
        {
          "data": {"values": [{}]},
          "mark": {"type": "text", "text": "Sev 5", "fontWeight": "bold", "fontSize": 13, "align": "left", "baseline": "middle", "color": "#111"},
          "encoding": {
            "x": {"datum": 0.019, "type": "quantitative", "scale": {"domain": [0, 0.4], "range": [481.7, 593.3], "nice": false, "zero": false}},
            "y": {"datum": 0.167, "type": "quantitative", "scale": {"domain": [0, 0.2], "range": [220, 122], "nice": false, "zero": false}}
          }
        },
        {
          "data": {"values": [{}]},
          "mark": {"type": "text", "text": "COCO", "fontWeight": "bold", "fontSize": 12, "align": "left", "baseline": "middle", "color": "#1a1a1a"},
          "encoding": {
            "x": {"datum": -0.0312, "type": "quantitative", "scale": {"domain": [0, 0.4], "range": [481.7, 593.3], "nice": false, "zero": false}},
            "y": {"datum": -0.0357, "type": "quantitative", "scale": {"domain": [0, 0.2], "range": [220, 122], "nice": false, "zero": false}}
          }
        },
        {
          "data": {"values": [{}]},
          "mark": {"type": "text", "text": ", Pixelation)", "fontSize": 12, "align": "left", "baseline": "middle", "color": "#1a1a1a"},
          "encoding": {
            "x": {"datum": 0.0907, "type": "quantitative", "scale": {"domain": [0, 0.4], "range": [481.7, 593.3], "nice": false, "zero": false}},
            "y": {"datum": -0.0357, "type": "quantitative", "scale": {"domain": [0, 0.2], "range": [220, 122], "nice": false, "zero": false}}
          }
        }
      ]
    },
    {
      "layer": [
        {
          "data": {"name": "legend"},
          "mark": {"type": "point", "filled": true, "size": 70, "opacity": 1},
          "encoding": {
            "x": {"datum": 0.176, "type": "quantitative", "scale": {"domain": [0, 1], "range": [601.7, 701.7], "nice": false, "zero": false}},
            "y": {"field": "order", "type": "quantitative", "scale": {"domain": [0, 5], "range": [125.7, 204.3], "nice": false, "zero": false}},
            "color": {"field": "model", "type": "nominal", "legend": null,
              "scale": {"domain": ["GLEE", "MM-GDINO", "GLIP", "FIBER", "RegionCLIP", "YOLO"], "range": ["#F9C343", "#F47BBE", "#1CC690", "#EC4A78", "#1C93C8", "#0D3D55"]}}
          }
        },
        {
          "data": {"name": "legend"},
          "mark": {"type": "text", "align": "left", "baseline": "middle", "fontSize": 11, "color": "#111"},
          "encoding": {
            "x": {"datum": 0.306, "type": "quantitative", "scale": {"domain": [0, 1], "range": [601.7, 701.7], "nice": false, "zero": false}},
            "y": {"field": "order", "type": "quantitative", "scale": {"domain": [0, 5], "range": [125.7, 204.3], "nice": false, "zero": false}},
            "text": {"field": "model"}
          }
        },
        {
          "data": {"values": [{}]},
          "mark": {"type": "text", "text": "★", "font": "DejaVu Sans", "fontSize": 15, "align": "center", "baseline": "middle", "color": "#000"},
          "encoding": {
            "x": {"datum": 0.193, "type": "quantitative", "scale": {"domain": [0, 1], "range": [601.7, 701.7], "nice": false, "zero": false}},
            "y": {"datum": 6.75, "type": "quantitative", "scale": {"domain": [0, 5], "range": [125.7, 204.3], "nice": false, "zero": false}}
          }
        },
        {
          "data": {"values": [{}]},
          "mark": {"type": "text", "text": "Fine-tuned\nModel", "lineBreak": "\n", "lineHeight": 15.5, "align": "left", "baseline": "middle", "fontSize": 11, "color": "#111"},
          "encoding": {
            "x": {"datum": 0.306, "type": "quantitative", "scale": {"domain": [0, 1], "range": [601.7, 701.7], "nice": false, "zero": false}},
            "y": {"datum": 6.06, "type": "quantitative", "scale": {"domain": [0, 5], "range": [125.7, 204.3], "nice": false, "zero": false}}
          }
        }
      ]
    }
  ]
}
